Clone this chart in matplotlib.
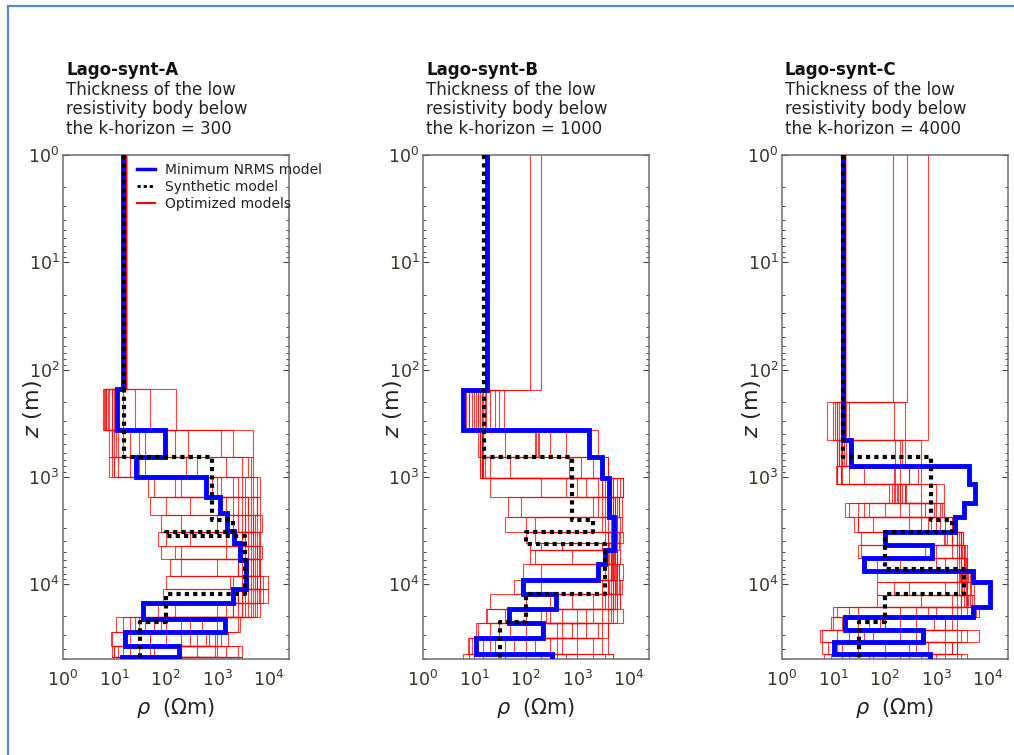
import numpy as np
import matplotlib
matplotlib.use("Agg")
import matplotlib.pyplot as plt
from matplotlib.lines import Line2D

# ---------------- data ----------------
panel_names = ["Lago-synt-A", "Lago-synt-B", "Lago-synt-C"]
thickness = [300, 1000, 4000]
x_ticks = [1, 10, 100, 1000, 10000]
y_ticks = [1, 10, 100, 1000, 10000]

# Minimum NRMS models: layer-bottom depths (m), resistivities (ohm m)
best_depth_A = [153, 367, 660, 1010, 1535, 2190, 3170, 4170, 5970, 11200, 15100, 21000, 27800, 37600, 47600]
best_rho_A = [14.8, 11.3, 96, 26, 617, 1120, 1550, 2090, 2750, 3690, 2040, 36, 1400, 16, 181, 13.8]
best_depth_B = [155, 367, 661, 1016, 2370, 4800, 6440, 9100, 12300, 17000, 23300, 31600, 44500]
best_rho_B = [18, 6.1, 1740, 3030, 4100, 5130, 3530, 2500, 88, 386, 48, 221, 10.6, 323]
best_depth_C = [456, 797, 1170, 1750, 2370, 3270, 4350, 5780, 7570, 9560, 16300, 20500, 27000, 34700, 44500]
best_rho_C = [15.7, 21.8, 4470, 5760, 3430, 2350, 102, 827, 40, 5130, 11000, 5200, 16.9, 553, 10.5, 745]

# Synthetic models
syn_depth_A = [650, 2550, 3300, 3600, 12300, 22500]
syn_depth_B = [650, 2550, 3270, 4270, 12300, 22500]
syn_depth_C = [650, 2550, 3250, 7250, 12300, 22500]
syn_rho = [15.3, 790, 2050, 103, 3500, 103, 31]

# Optimized models (shared layer-bottom depths per panel)
red_depth_A = [153, 367, 660, 1010, 1530, 2250, 3300, 4400, 5900, 8450, 11200, 15100, 20100, 27800, 37600, 47600]
red_rho_A = [
    [17, 7, 12, 30, 600, 1500, 2500, 3500, 4000, 4500, 4000, 3000, 2500, 40, 900, 12, 150],
    [17, 9, 9, 20, 800, 2000, 3000, 5000, 3500, 3000, 5000, 4000, 2000, 60, 1200, 15, 120],
    [17, 6, 150, 250, 1200, 1200, 4000, 3000, 6000, 5000, 4500, 3500, 1500, 30, 600, 10, 200],
    [17, 15, 2000, 3000, 5000, 6000, 5000, 2000, 1500, 2500, 8000, 6000, 4000, 1500, 300, 50, 2500],
    [17, 25, 10, 8, 45, 3000, 6000, 7000, 4500, 3500, 3000, 2500, 3000, 200, 20, 1500, 15],
    [17, 8, 40, 1500, 2000, 2500, 80, 4500, 5000, 6000, 3500, 4500, 3500, 25, 1000, 10, 300],
    [17, 50, 8, 12, 3500, 4000, 3500, 100, 80, 4000, 6000, 5000, 1000, 15, 200, 30, 1800],
    [17, 160, 20, 10, 200, 5000, 7000, 6000, 7000, 120, 1800, 7000, 5000, 80, 9, 2500, 25],
    [17, 7, 5000, 4500, 6900, 300, 1000, 4000, 3000, 7000, 10000, 3000, 70, 2500, 50, 400, 9],
    [17, 10, 270, 40, 60, 7000, 5000, 1500, 150, 5000, 100, 10000, 6000, 300, 1600, 9, 1000],
    [17, 12, 15, 400, 2500, 50, 200, 5500, 5500, 200, 4000, 90, 6900, 11, 100, 3000, 50],
    [17, 6.5, 100, 4000, 6000, 4500, 2000, 70, 6500, 2500, 7000, 2500, 4500, 2800, 700, 20, 500],
    [17, 9, 11, 9, 150, 4000, 5500, 6500, 7400, 6500, 6000, 6500, 3000, 100, 15, 200, 1200],
    [17, 7.5, 1200, 5000, 3000, 3500, 4500, 300, 2500, 5500, 2000, 8000, 2000, 500, 8.6, 900, 30],
    [17, 11, 9, 25, 1000, 100, 3500, 5000, 6000, 1000, 7000, 5500, 5500, 1000, 50, 60, 3000],
    [17, 6.2, 30, 10, 4500, 6000, 7400, 3000, 200, 7000, 5500, 2000, 150, 20, 400, 1000, 10],
]
red_depth_B = [155, 367, 661, 1016, 1540, 2370, 3260, 4140, 4800, 6440, 9100, 12300, 17000, 23300, 31600, 44500]
red_rho_B = [
    [17.4, 13, 14, 14, 2500, 4000, 5000, 5500, 5000, 4500, 5500, 6000, 3000, 200, 30, 400, 15],
    [17.4, 10, 160, 15, 3000, 3500, 6000, 5000, 6000, 5500, 4000, 5000, 5000, 1000, 200, 20, 300],
    [17.4, 15, 180, 13, 20, 5000, 4500, 4000, 4500, 150, 5000, 4000, 6000, 2000, 12, 150, 40],
    [120, 8, 14, 700, 1500, 2500, 3500, 6500, 5500, 6000, 6000, 80, 4500, 18, 1500, 8, 600],
    [200, 17, 2500, 4000, 8000, 6000, 7000, 150, 7000, 7000, 8000, 7000, 7000, 8000, 4000, 4000, 5000],
    [17.4, 20, 40, 14, 4500, 45, 5500, 8000, 3000, 4000, 4500, 5500, 100, 40, 500, 25, 10],
    [17.4, 7, 15, 16, 6000, 5500, 40, 4500, 4200, 5000, 90, 4500, 4000, 6000, 3000, 500, 6],
    [17.4, 37, 13, 13, 3500, 6500, 6000, 100, 120, 4800, 5200, 60, 2000, 300, 50, 3000, 2000],
    [17.4, 12, 300, 2000, 5000, 7500, 3000, 4000, 6500, 120, 6500, 6500, 20, 5000, 800, 100, 30],
    [17.4, 14, 14, 3000, 7000, 80, 4000, 6000, 5200, 5500, 4800, 5000, 5500, 17, 2500, 9, 200],
    [17.4, 9, 150, 14, 1000, 4500, 4800, 3500, 4000, 5000, 3500, 3000, 800, 3000, 11, 1000, 8],
    [17.4, 25, 13, 50, 200, 3000, 7500, 5500, 4000, 3500, 6500, 7500, 6000, 4000, 200, 40, 1000],
    [17.4, 11, 600, 4000, 8000, 2000, 150, 7000, 500, 6000, 200, 4000, 5000, 1500, 100, 7.5, 3500],
    [17.4, 16, 13, 20, 4000, 5500, 5500, 4500, 4500, 800, 5800, 5800, 300, 500, 4000, 60, 100],
    [17.4, 12, 13, 15, 5000, 6500, 5200, 6000, 5500, 5200, 5000, 5500, 5000, 4500, 20, 2000, 400],
    [17.4, 30, 170, 1200, 600, 4000, 5000, 5000, 200, 4200, 6000, 4200, 3500, 100, 1000, 15, 5000],
    [17.4, 8, 12, 14, 3000, 5000, 100, 6000, 4800, 4500, 4500, 200, 7000, 250, 400, 300, 40],
]
red_depth_C = [200, 456, 797, 1170, 1750, 2370, 3240, 4350, 5780, 7570, 9560, 12700, 16300, 20500, 27000, 34700, 44500]
red_rho_C = [
    [16.9, 12, 14, 15, 200, 40, 500, 2000, 3000, 3500, 3000, 2500, 3500, 200, 15, 1500, 10, 500],
    [16.9, 15, 200, 150, 250, 1200, 2000, 2500, 3500, 2800, 3500, 4000, 2000, 4000, 30, 12, 400, 20],
    [148, 10, 16, 300, 180, 20, 25, 1400, 2500, 4000, 2500, 300, 5000, 7000, 200, 40, 8, 1000],
    [270, 18, 12, 12, 150, 1300, 2500, 3000, 2000, 3000, 4500, 5500, 4000, 30, 2500, 200, 30, 15],
    [710, 700, 250, 500, 1400, 200, 1500, 1500, 4000, 1500, 3000, 1500, 500, 1000, 1500, 7000, 2500, 4000],
    [16.9, 7.4, 15, 40, 220, 600, 30, 3000, 3200, 3500, 4000, 3800, 3000, 12, 900, 6, 1500, 50],
    [16.9, 20, 160, 12, 500, 30, 2000, 2800, 30, 2500, 3800, 4500, 5500, 5000, 10, 2500, 6, 100],
    [16.9, 14, 13, 450, 260, 900, 300, 35, 3500, 70, 3200, 70, 4200, 10, 80, 5.5, 2000, 6.5],
    [16.9, 150, 20, 14, 120, 17, 2200, 3400, 1000, 4000, 2800, 3200, 70, 3000, 400, 20, 100, 3000],
    [16.9, 11, 500, 20, 160, 1000, 700, 2000, 2800, 3000, 70, 4800, 3800, 2000, 2000, 400, 2500, 9],
    [16.9, 13, 12, 200, 1000, 300, 60, 1600, 600, 1000, 3600, 3000, 4500, 700, 100, 3000, 15, 300],
    [16.9, 250, 18, 11.5, 140, 100, 1200, 3300, 3700, 200, 3000, 3500, 2500, 6000, 9, 60, 700, 2500],
    [16.9, 12, 13, 14, 250, 500, 1000, 2500, 3000, 3600, 3300, 4000, 3000, 2500, 100, 30, 2000, 200],
    [16.9, 16, 220, 300, 200, 1400, 30, 2000, 35, 3800, 4200, 2800, 4000, 20, 1500, 600, 12, 1500],
    [16.9, 14, 15, 160, 170, 50, 800, 3000, 2800, 3000, 2900, 150, 3000, 400, 50, 4000, 300, 60],
]

legend_labels = ["Minimum NRMS model", "Synthetic model", "Optimized models"]

# ---------------- helpers ----------------
Z_TOP, Z_BOT = 1.0, 1e5


def step_xy(depths, rhos):
    z = [Z_TOP] + list(depths) + [Z_BOT]
    xs = np.repeat(np.asarray(rhos, float), 2)
    ys = np.column_stack([z[:-1], z[1:]]).ravel()
    return xs, ys


W, H = 1014, 755
fig = plt.figure(figsize=(W / 100, H / 100), dpi=100)
plt.rcParams["font.family"] = ["DejaVu Sans"]
plt.rcParams["mathtext.fontset"] = "dejavusans"

tick_col = "#3a3328"
spine_col = "#6e6e6e"

panels = [
    (63, best_depth_A, best_rho_A, syn_depth_A, red_depth_A, red_rho_A),
    (423, best_depth_B, best_rho_B, syn_depth_B, red_depth_B, red_rho_B),
    (782, best_depth_C, best_rho_C, syn_depth_C, red_depth_C, red_rho_C),
]

ax_w, ax_top, ax_bot = 226, 155, 659
for i, (left, bd, br, sd, rd, rr) in enumerate(panels):
    ax = fig.add_axes([left / W, 1 - ax_bot / H, ax_w / W, (ax_bot - ax_top) / H])
    for rho in rr:
        x, y = step_xy(rd, rho)
        ax.plot(x, y, color="#ff0000", lw=0.8, alpha=0.75, zorder=2)
    x, y = step_xy(bd, br)
    ax.plot(x, y, color="#0000ff", lw=3.5, solid_joinstyle="miter", zorder=3)
    x, y = step_xy(sd, syn_rho)
    ax.plot(x, y, color="black", lw=3.0, dashes=(1.0, 1.0), zorder=4)

    ax.set_xscale("log")
    ax.set_yscale("log")
    ax.set_xlim(1, 10 ** 4.4)
    ax.set_ylim(5e4, 1)
    ax.set_xticks(x_ticks)
    ax.set_yticks(y_ticks)
    ax.tick_params(axis="x", which="both", length=0, pad=8, labelsize=12.5, labelcolor=tick_col)
    ax.tick_params(axis="y", which="major", direction="in", left=True, right=True,
                   length=4, width=0.8, color="#444444", pad=2.5, labelsize=12.5, labelcolor=tick_col)
    ax.tick_params(axis="y", which="minor", direction="in", left=True, right=True,
                   length=2.5, width=0.7, color="#444444")
    ax.xaxis.set_minor_locator(matplotlib.ticker.NullLocator())
    for sp in ax.spines.values():
        sp.set_color(spine_col)
        sp.set_linewidth(1.1)

    ax.set_xlabel(r"$\rho$  ($\Omega$m)", fontsize=15, color="#222222")
    ax.xaxis.set_label_coords(0.5, -0.098)
    ax.xaxis.label.set_va("center")
    ax.set_ylabel(r"$z$ (m)", fontsize=16, color="#222222")
    ax.yaxis.set_label_coords(-0.135, 0.496)
    ax.yaxis.label.set_va("center")

    tx = (left + 3) / W
    fig.text(tx, 1 - 75 / H, panel_names[i], fontsize=12, fontweight="bold", va="baseline", color="#111111")
    fig.text(tx, 1 - 95 / H, "Thickness of the low", fontsize=12, va="baseline", color="#222222")
    fig.text(tx, 1 - 114.5 / H, "resistivity body below", fontsize=12, va="baseline", color="#222222")
    fig.text(tx, 1 - 134 / H, f"the k-horizon = {thickness[i]}", fontsize=12, va="baseline", color="#222222")

    if i == 0:
        handles = [
            Line2D([], [], color="#0000ff", lw=2.5),
            Line2D([], [], color="black", lw=2.0, dashes=(1.2, 1.0)),
            Line2D([], [], color="#ff0000", lw=1.5),
        ]
        leg = ax.legend(handles, legend_labels, loc="upper left",
                        bbox_to_anchor=((137 - left) / ax_w, (ax_bot - 163) / (ax_bot - ax_top)),
                        frameon=False, fontsize=10, handlelength=1.3, handletextpad=0.7,
                        labelspacing=0.2, borderpad=0, borderaxespad=0)
        for t in leg.get_texts():
            t.set_color("#222222")

# figure border (top and left)
fig.add_artist(Line2D([8 / W, 8 / W], [0, 1 - 6 / H], color="#5a8ad0", lw=1.6))
fig.add_artist(Line2D([8 / W, 1], [1 - 6 / H, 1 - 6 / H], color="#5a8ad0", lw=1.6))

fig.savefig("out.png", dpi=100)
